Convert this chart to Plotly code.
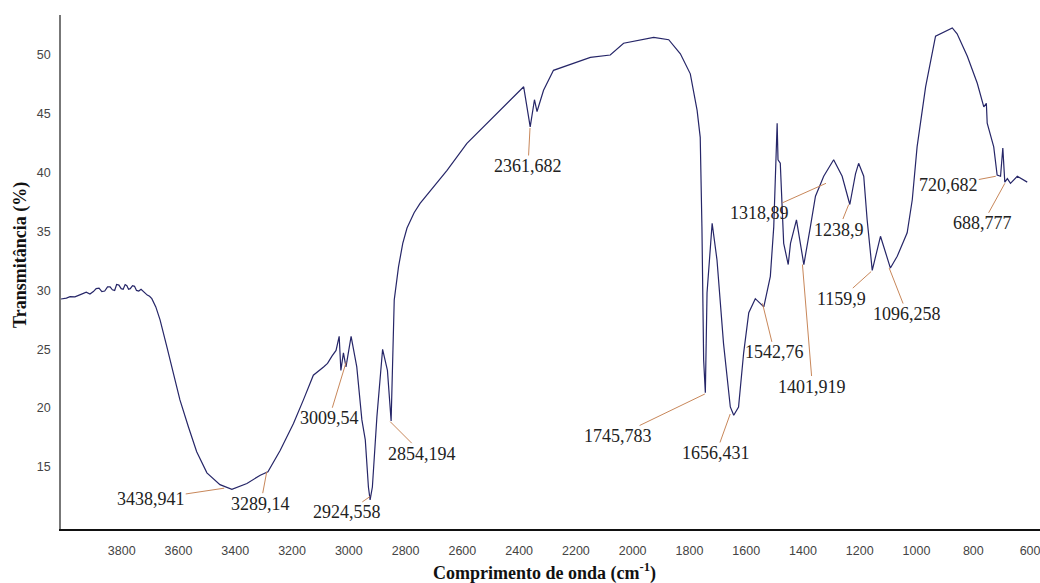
import plotly.graph_objects as go

# ---- data ----
wavenumber = [4014, 3995, 3982, 3965, 3950, 3938, 3925, 3912, 3900, 3890, 3880, 3870, 3860,
              3850, 3841, 3833, 3825, 3818, 3810, 3802, 3795, 3788, 3782, 3776, 3770, 3762,
              3755, 3748, 3740, 3732, 3724, 3717, 3710, 3702, 3694, 3680, 3665, 3641, 3618,
              3595, 3565, 3536, 3500, 3454, 3412, 3359, 3312, 3285, 3242, 3195, 3160, 3125,
              3089, 3075, 3060, 3045, 3034, 3028, 3019, 3010, 2992, 2972, 2954, 2942, 2931,
              2925, 2917, 2901, 2881, 2864, 2851, 2840, 2825, 2810, 2795, 2770, 2749, 2702,
              2654, 2584, 2467, 2384, 2361, 2346, 2337, 2314, 2279, 2208, 2149, 2079, 2032,
              1926, 1873, 1832, 1797, 1773, 1762, 1756, 1750, 1744, 1738, 1720, 1703, 1680,
              1656, 1644, 1627, 1609, 1591, 1568, 1538, 1515, 1503, 1491, 1488, 1480, 1468,
              1452, 1444, 1423, 1397, 1374, 1356, 1327, 1292, 1262, 1235, 1215, 1204, 1186,
              1174, 1156, 1127, 1092, 1068, 1033, 1015, 998, 968, 933, 916, 900, 890, 874,
              857, 821, 786, 763, 754, 751, 728, 716, 704, 696, 689, 680, 669, 645, 610]
transmittance = [29.27, 29.35, 29.47, 29.45, 29.6, 29.75, 29.85, 29.7, 29.9, 30.15, 30.2, 29.9,
                 29.95, 30.3, 30.3, 30.05, 30.0, 30.5, 30.45, 30.15, 30.1, 30.5, 30.4, 30.1,
                 30.15, 30.4, 30.35, 30.0, 29.95, 30.1, 29.9, 29.75, 29.6, 29.5, 29.3, 28.6,
                 27.5, 25.2, 23.0, 20.7, 18.4, 16.3, 14.5, 13.5, 13.1, 13.6, 14.3, 14.6, 16.4,
                 18.7, 20.7, 22.8, 23.5, 23.8, 24.4, 24.9, 26.1, 23.2, 24.7, 23.5, 26.1, 23.5,
                 19.0, 17.3, 13.3, 12.2, 13.3, 19.3, 25.0, 23.2, 18.9, 29.2, 32.0, 34.0, 35.3,
                 36.6, 37.4, 38.8, 40.2, 42.5, 45.3, 47.3, 43.9, 46.2, 45.2, 47.0, 48.7, 49.3,
                 49.8, 50.0, 51.0, 51.5, 51.3, 50.1, 48.4, 45.3, 43.0, 35.4, 24.1, 21.3, 29.8,
                 35.7, 32.6, 25.5, 20.1, 19.4, 20.1, 24.7, 28.1, 29.3, 28.6, 31.2, 35.4, 44.2,
                 41.1, 40.8, 34.0, 32.2, 34.0, 36.0, 32.2, 35.4, 38.0, 39.7, 41.1, 39.7, 37.3,
                 39.9, 40.8, 39.7, 36.0, 31.7, 34.6, 31.9, 32.9, 34.9, 37.7, 42.2, 47.3, 51.6,
                 51.8, 52.0, 52.1, 52.3, 51.8, 49.9, 47.6, 45.6, 45.9, 44.2, 42.2, 39.8, 39.7,
                 42.1, 39.2, 39.5, 39.1, 39.7, 39.2]

peak_labels = ["3438,941", "3289,14", "3009,54", "2924,558", "2854,194", "2361,682",
               "1745,783", "1656,431", "1542,76", "1401,919", "1318,89", "1238,9",
               "1159,9", "1096,258", "720,682", "688,777"]
peak_wn = [3438.941, 3289.14, 3009.54, 2924.558, 2854.194, 2361.682, 1745.783, 1656.431,
           1542.76, 1401.919, 1318.89, 1238.9, 1159.9, 1096.258, 720.682, 688.777]
peak_T = [13.2, 14.6, 23.9, 12.5, 18.85, 43.8, 21.2, 19.5, 28.9, 32.2, 39.1, 37.3, 31.6,
          31.9, 39.7, 39.1]

x_ticks = [3800, 3600, 3400, 3200, 3000, 2800, 2600, 2400, 2200, 2000, 1800, 1600, 1400,
           1200, 1000, 800, 600]
y_ticks = [15, 20, 25, 30, 35, 40, 45, 50]

# ---- layout-only settings: label offsets in pixels ----
label_offsets = [(-73, 11), (-6, 32), (-17, 56), (-23, 16), (32, 32), (-2, 38), (-87, 42),
                 (-14, 39), (12, 49), (10, 122), (-67, 30), (-10, 25), (-30, 27), (18, 46),
                 (-47, 9), (-22, 40)]

fig = go.Figure()
fig.add_trace(go.Scatter(x=wavenumber, y=transmittance, mode="lines",
                         line=dict(color="#262668", width=1.2), showlegend=False,
                         hoverinfo="skip"))

serif = "Liberation Serif, Times New Roman, serif"
annotations = []
for lab, xw, yt, (ax, ay) in zip(peak_labels, peak_wn, peak_T, label_offsets):
    annotations.append(dict(
        x=xw, y=yt, xref="x", yref="y", text=lab, showarrow=True,
        ax=ax, ay=ay, arrowhead=0, arrowwidth=1, arrowcolor="#c8875a", standoff=0,
        font=dict(family=serif, size=18, color="#222222"), borderpad=0,
    ))

annotations.append(dict(
    text="<b>Transmitância (%)</b>", xref="paper", yref="paper", x=-0.042, y=0.533,
    xanchor="center", yanchor="middle", textangle=-90, showarrow=False,
    font=dict(family=serif, size=18, color="#111111"),
))
annotations.append(dict(
    text="<b>Comprimento de onda (cm<sup>-1</sup>)</b>", xref="paper", yref="paper",
    x=0.494, y=-0.083, xanchor="center", yanchor="middle", showarrow=False,
    font=dict(family=serif, size=18, color="#111111"),
))

fig.update_layout(
    width=1040, height=583,
    margin=dict(l=61, r=0, t=15, b=54),
    paper_bgcolor="white", plot_bgcolor="white",
    annotations=annotations,
    xaxis=dict(range=[4014, 565], tickvals=x_ticks, ticktext=[str(v) for v in x_ticks],
               showgrid=False, zeroline=False, showline=True, linecolor="#111111",
               linewidth=1.5, ticks="", ticklabelstandoff=9, ticklabeloverflow="allow",
               tickfont=dict(family="Liberation Sans, Arial, sans-serif", size=12.5,
                             color="#444444")),
    yaxis=dict(range=[9.73, 53.4], tickvals=y_ticks, ticktext=[str(v) for v in y_ticks],
               showgrid=False, zeroline=False, showline=True, linecolor="#777777",
               linewidth=1.5, ticks="", ticklabelstandoff=6,
               tickfont=dict(family="Liberation Sans, Arial, sans-serif", size=12.5,
                             color="#444444")),
)

fig.write_html("out.html")
